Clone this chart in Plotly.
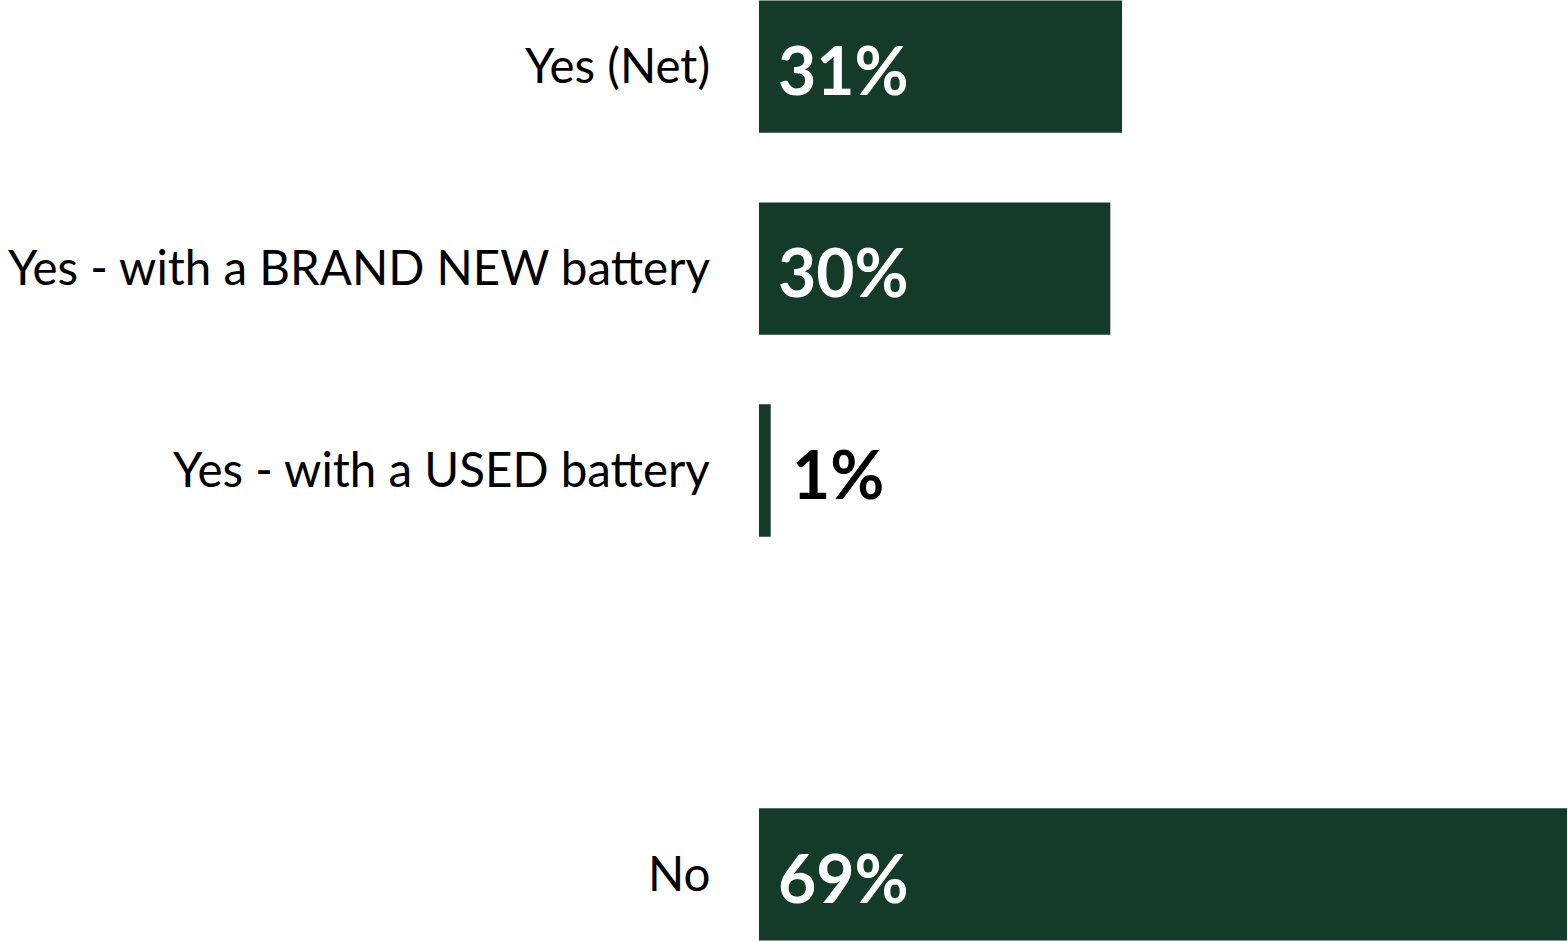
import plotly.graph_objects as go

categories = ["Yes (Net)", "Yes - with a BRAND NEW battery", "Yes - with a USED battery", "No"]
slots = [0, 1, 2, 4]
values = [31, 30, 1, 69]
value_labels = ["31%", "30%", "1%", "69%"]

GREEN = "#143B2A"
FONT = "Lato"

fig = go.Figure(go.Bar(
    x=values, y=slots, orientation="h",
    marker=dict(color=GREEN, line=dict(width=0)),
    width=0.655, hoverinfo="skip",
))

annotations = []
for cat, s, v, lab in zip(categories, slots, values, value_labels):
    annotations.append(dict(
        x=0, y=s, xref="paper", yref="y", text=cat, showarrow=False,
        xanchor="right", yanchor="middle", xshift=-47, yshift=2,
        font=dict(family=FONT, size=47.5, color="black"),
    ))
    inside = v >= 5
    annotations.append(dict(
        x=0 if inside else v, y=s, xref="x", yref="y", text="<b>" + lab + "</b>",
        showarrow=False, xanchor="left", yanchor="middle",
        xshift=17 if inside else 19, yshift=-3,
        font=dict(family=FONT, size=66, color="white" if inside else "black"),
    ))

fig.update_layout(
    width=1568, height=941,
    margin=dict(l=759, r=0, t=0, b=0),
    paper_bgcolor="white", plot_bgcolor="white",
    showlegend=False,
    xaxis=dict(range=[0, 69.08], visible=False, fixedrange=True),
    yaxis=dict(range=[4.33, -0.33], visible=False, fixedrange=True),
    annotations=annotations,
)

fig.write_html(
    "out.html",
    config={"displayModeBar": False},
    post_script="document.body.style.margin='0';document.body.style.overflow='hidden';",
)
